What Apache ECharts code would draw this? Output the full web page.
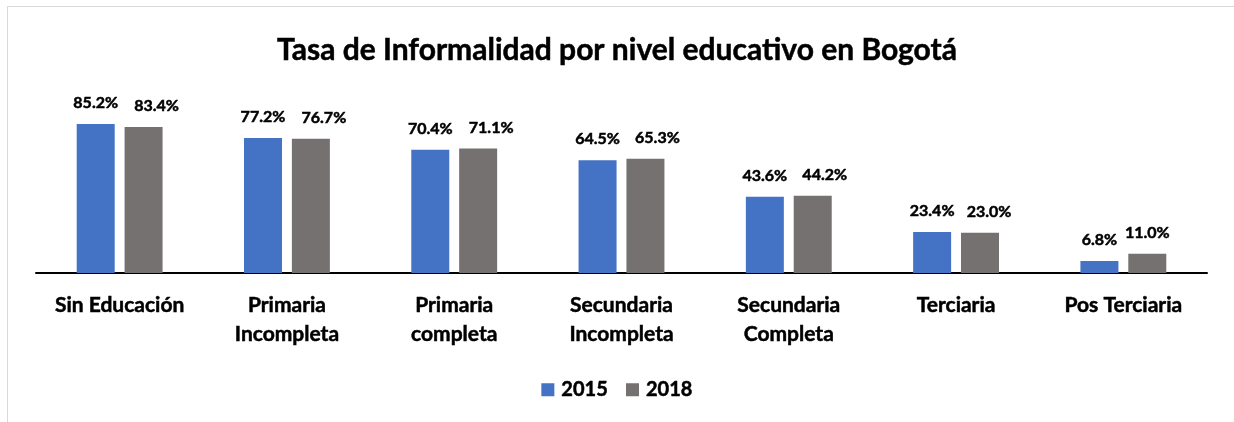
<!DOCTYPE html>
<html>
<head>
<meta charset="utf-8">
<script src="https://cdn.jsdelivr.net/npm/echarts@6/dist/echarts.min.js"></script>
<style>
  html, body { margin: 0; padding: 0; background: #fff; }
  #frame { position: absolute; left: 7px; top: 6px; width: 1300px; height: 500px; border: 1px solid #d9d9d9; box-sizing: border-box; }
  #chart { position: absolute; left: 0; top: 0; width: 1234px; height: 422px; }
</style>
</head>
<body>
<div id="frame"></div>
<div id="chart"></div>
<script>
const categories = ['Sin Educación', 'Primaria\nIncompleta', 'Primaria\ncompleta', 'Secundaria\nIncompleta', 'Secundaria\nCompleta', 'Terciaria', 'Pos Terciaria'];
const values2015 = [85.2, 77.2, 70.4, 64.5, 43.6, 23.4, 6.8];
const values2018 = [83.4, 76.7, 71.1, 65.3, 44.2, 23.0, 11.0];

const FONT = 'Lato, "Open Sans", sans-serif';
// a thin outline in the text colour gives the heavier bold look
const heavy = { textBorderColor: '#000', textBorderWidth: 0.5 };
const chart = echarts.init(document.getElementById('chart'));

const labelStyle = Object.assign({
  show: true,
  position: 'top',
  distance: 13,
  fontFamily: FONT,
  fontWeight: 'bold',
  fontSize: 16,
  color: '#000',
  formatter: p => p.value.toFixed(1) + '%'
}, heavy);

// 2018 labels are nudged right so they clear the 2015 labels next to them
const shift2018 = [13, 13, 13, 12, 12, 9, 0];
const data2018 = values2018.map((v, i) => ({ value: v, label: { offset: [shift2018[i], 0] } }));

chart.setOption({
  animation: false,
  title: {
    text: 'Tasa de Informalidad por nivel educativo en Bogotá',
    left: 'center',
    top: 30,
    textStyle: Object.assign({ fontFamily: FONT, fontWeight: 'bold', fontSize: 30, color: '#000' }, heavy)
  },
  legend: {
    bottom: 17,
    left: 'center',
    itemWidth: 13,
    itemHeight: 13,
    itemGap: 18,
    icon: 'rect',
    textStyle: Object.assign({ fontFamily: FONT, fontWeight: 'bold', fontSize: 20, color: '#000', padding: [0, 0, 0, 2] }, heavy),
    data: ['2015', '2018']
  },
  grid: { left: 36, right: 27, top: 98, bottom: 149 },
  xAxis: {
    type: 'category',
    data: categories,
    axisLine: { lineStyle: { color: '#000', width: 2 } },
    axisTick: { show: false },
    axisLabel: Object.assign({
      interval: 0,
      margin: 18,
      fontFamily: FONT,
      fontWeight: 'bold',
      fontSize: 21,
      lineHeight: 29,
      color: '#000'
    }, heavy)
  },
  yAxis: {
    type: 'value',
    min: 0,
    max: 100,
    show: false,
    splitLine: { show: false }
  },
  series: [
    {
      name: '2015', type: 'bar', data: values2015,
      barWidth: 38, barGap: '26%',
      itemStyle: { color: '#4472C4' },
      label: labelStyle
    },
    {
      name: '2018', type: 'bar', data: data2018,
      barWidth: 38,
      itemStyle: { color: '#767171' },
      label: labelStyle
    }
  ]
});
</script>
</body>
</html>
